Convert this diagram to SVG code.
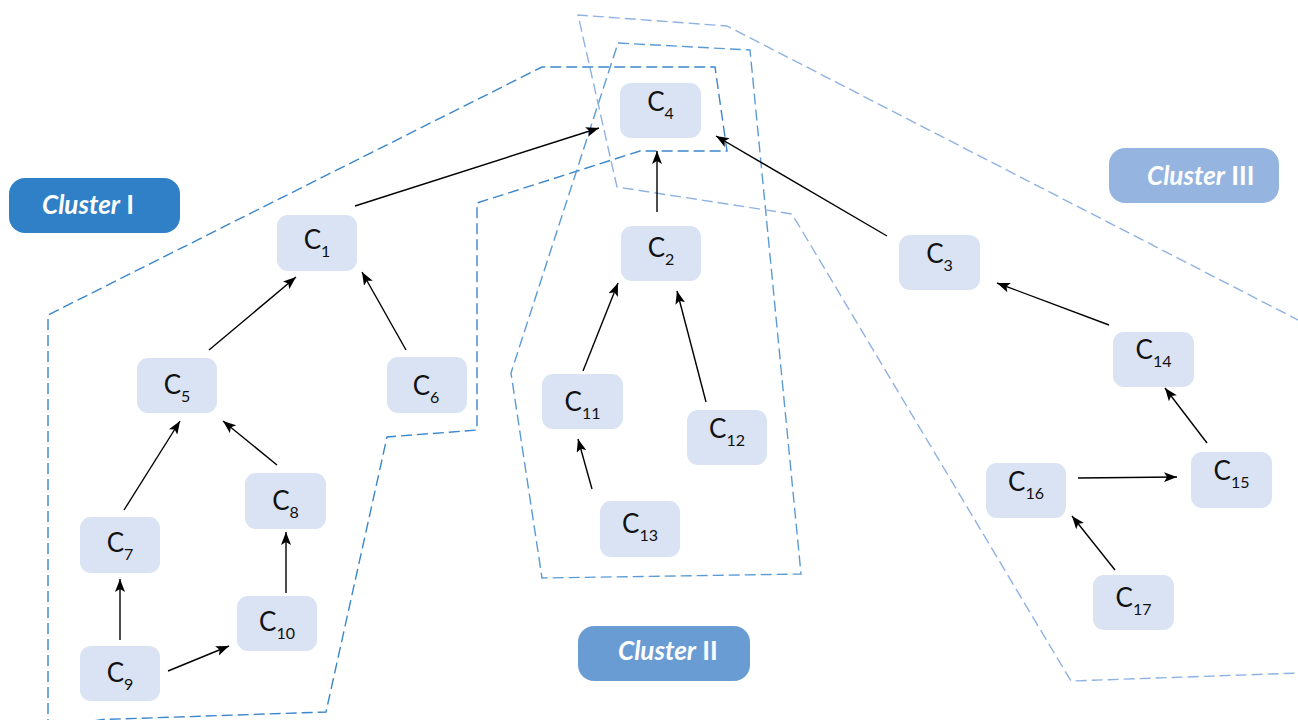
<svg xmlns="http://www.w3.org/2000/svg" width="1298" height="720" viewBox="0 0 1298 720">
<defs>
<style>
.node rect{fill:#DAE3F3;}
.node text{font-family:Lato,"Liberation Sans",sans-serif;font-size:26px;fill:#111;text-anchor:middle;}
.node tspan{font-size:16px;}
.cl text{font-family:Lato,"Liberation Sans",sans-serif;font-size:26px;font-weight:bold;fill:#fff;}
.edge line{stroke:#000;stroke-width:1.4;marker-end:url(#ah);}
.hull{fill:none;stroke-width:1.4;stroke-dasharray:11 5;}
</style>
<marker id="ah" markerUnits="userSpaceOnUse" markerWidth="14" markerHeight="10" refX="13" refY="5" orient="auto">
<path d="M0,0 L13,5 L0,10 L3,5 Z" fill="#000"/>
</marker>
</defs>
<rect width="1298" height="720" fill="#fff"/>
<g id="hulls">
<path id="hull1" class="hull" stroke="#3A86CC" d="M48,730 L48,315 L542,67 L715,67 L727,151 L640,151 L477,203 L477,430 L387,437 L326,712 L103,719.5 L60,726"/>
<path id="hull2" class="hull" stroke="#5B9BD5" d="M618,43 L750,50 L801,574 L542,578 L511,373 Z"/>
<path id="hull3" class="hull" stroke="#8FB2E3" d="M1300,321 L727,26 L578,15 L617,187 L792,214 L1071,681 L1300,673"/>
</g>
<g id="clusterI" class="cl"><rect x="9" y="178" width="171" height="55" rx="16" fill="#2F80C6"/><text x="42" y="214"><tspan font-style="italic">Cluster</tspan> I</text></g>
<g id="clusterII" class="cl"><rect x="578" y="626" width="172" height="55" rx="16" fill="#6A9CD4"/><text x="618" y="660"><tspan font-style="italic">Cluster</tspan> II</text></g>
<g id="clusterIII" class="cl"><rect x="1109" y="148" width="170" height="55" rx="16" fill="#95B4E0"/><text x="1147" y="185"><tspan font-style="italic">Cluster</tspan> III</text></g>
<g id="edges" class="edge">
<line x1="355" y1="206" x2="599" y2="128"/>
<line x1="209" y1="350" x2="296" y2="277"/>
<line x1="406" y1="350" x2="362" y2="272"/>
<line x1="124" y1="510" x2="180" y2="421"/>
<line x1="277" y1="465" x2="223" y2="421"/>
<line x1="120" y1="640" x2="120" y2="579"/>
<line x1="168" y1="671" x2="229" y2="646"/>
<line x1="286" y1="593" x2="286" y2="532"/>
<line x1="657" y1="212" x2="657" y2="151"/>
<line x1="583" y1="371" x2="618" y2="283"/>
<line x1="706" y1="402" x2="677" y2="291"/>
<line x1="592" y1="489" x2="578" y2="439"/>
<line x1="887" y1="236" x2="716" y2="136"/>
<line x1="1109" y1="325" x2="997" y2="283"/>
<line x1="1207" y1="443" x2="1165" y2="388"/>
<line x1="1078" y1="478" x2="1177" y2="477"/>
<line x1="1115" y1="570" x2="1072" y2="516"/>
</g>
<g id="C1" class="node"><rect x="277" y="215" width="80" height="56" rx="11"/><text x="317" y="249">C<tspan dy="8">1</tspan></text></g>
<g id="C2" class="node"><rect x="621" y="226" width="80" height="55" rx="11"/><text x="661" y="257">C<tspan dy="8">2</tspan></text></g>
<g id="C3" class="node"><rect x="899" y="235" width="81" height="55" rx="11"/><text x="939.5" y="263">C<tspan dy="8">3</tspan></text></g>
<g id="C4" class="node"><rect x="620" y="83" width="81" height="55" rx="11"/><text x="660.5" y="111">C<tspan dy="8">4</tspan></text></g>
<g id="C5" class="node"><rect x="137" y="358" width="80" height="55" rx="11"/><text x="177" y="394">C<tspan dy="8">5</tspan></text></g>
<g id="C6" class="node"><rect x="387" y="357" width="80" height="56" rx="11"/><text x="426" y="395">C<tspan dy="8">6</tspan></text></g>
<g id="C7" class="node"><rect x="80" y="517" width="80" height="56" rx="11"/><text x="120" y="552">C<tspan dy="8">7</tspan></text></g>
<g id="C8" class="node"><rect x="245" y="473" width="81" height="56" rx="11"/><text x="285.5" y="510">C<tspan dy="8">8</tspan></text></g>
<g id="C9" class="node"><rect x="80" y="646" width="80" height="55" rx="11"/><text x="120" y="682">C<tspan dy="8">9</tspan></text></g>
<g id="C10" class="node"><rect x="237" y="596" width="80" height="55" rx="11"/><text x="277" y="631">C<tspan dy="8">10</tspan></text></g>
<g id="C11" class="node"><rect x="542" y="374" width="81" height="55" rx="11"/><text x="582.5" y="411">C<tspan dy="8">11</tspan></text></g>
<g id="C12" class="node"><rect x="687" y="410" width="80" height="55" rx="11"/><text x="727" y="438">C<tspan dy="8">12</tspan></text></g>
<g id="C13" class="node"><rect x="600" y="501" width="80" height="56" rx="11"/><text x="640" y="533">C<tspan dy="8">13</tspan></text></g>
<g id="C14" class="node"><rect x="1113" y="332" width="81" height="55" rx="11"/><text x="1153.5" y="359">C<tspan dy="8">14</tspan></text></g>
<g id="C15" class="node"><rect x="1191" y="452" width="81" height="56" rx="11"/><text x="1231.5" y="480">C<tspan dy="8">15</tspan></text></g>
<g id="C16" class="node"><rect x="986" y="463" width="80" height="55" rx="11"/><text x="1026" y="491">C<tspan dy="8">16</tspan></text></g>
<g id="C17" class="node"><rect x="1093" y="575" width="81" height="55" rx="11"/><text x="1133.5" y="607">C<tspan dy="8">17</tspan></text></g>
</svg>
